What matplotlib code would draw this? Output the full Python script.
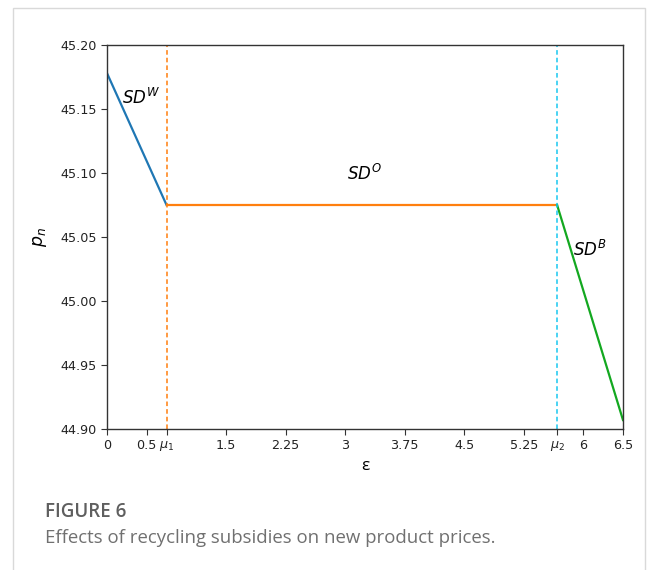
import matplotlib
matplotlib.use("Agg")
import matplotlib.pyplot as plt
from matplotlib.patches import Rectangle

# Threshold values of the subsidy
mu1 = 0.75
mu2 = 5.67

# Piecewise price segments (epsilon, p_n)
eps_w = [0.0, mu1]
p_w = [45.178, 45.075]
eps_o = [mu1, mu2]
p_o = [45.075, 45.075]
eps_b = [mu2, 6.5]
p_b = [45.075, 44.907]

xtick_vals = [0, 0.5, mu1, 1.5, 2.25, 3, 3.75, 4.5, 5.25, mu2, 6, 6.5]
xtick_labels = ["0", "0.5", r"$\mu_1$", "1.5", "2.25", "3", "3.75", "4.5", "5.25", r"$\mu_2$", "6", "6.5"]
ytick_vals = [44.90, 44.95, 45.00, 45.05, 45.10, 45.15, 45.20]

fig = plt.figure(figsize=(6.58, 5.70), dpi=100)
fig.patch.set_facecolor("white")

# light frame around chart and caption
fig.patches.append(Rectangle((13 / 658, -0.01), (645 - 13) / 658, 1 - 8 / 570 + 0.01,
                             transform=fig.transFigure, fill=False,
                             edgecolor="#d9d9d9", linewidth=1.0))

ax = fig.add_axes([107 / 658, 1 - 429 / 570, (623 - 107) / 658, (429 - 45) / 570])

ax.plot(eps_w, p_w, color="#1f77b4", lw=1.6)
ax.plot(eps_o, p_o, color="#ff7f0e", lw=1.6)
ax.plot(eps_b, p_b, color="#13a820", lw=1.6)
ax.axvline(mu1, color="#ff7f0e", lw=1.1, ls=(0, (3, 2)))
ax.axvline(mu2, color="#19c8f0", lw=1.1, ls=(0, (3, 2)))

ax.text(0.43, 45.159, r"$SD^W$", fontsize=12, ha="center", va="center")
ax.text(3.25, 45.099, r"$SD^O$", fontsize=12, ha="center", va="center")
ax.text(6.08, 45.040, r"$SD^B$", fontsize=12, ha="center", va="center")

ax.set_xlim(0, 6.5)
ax.set_ylim(44.90, 45.20)
ax.set_xticks(xtick_vals)
ax.set_xticklabels(xtick_labels)
ax.set_yticks(ytick_vals)
ax.set_yticklabels([f"{v:.2f}" for v in ytick_vals])
ax.tick_params(labelsize=9.2, length=4, color="#333333", labelcolor="#222222")
for s in ax.spines.values():
    s.set_color("#333333")
    s.set_linewidth(1.0)

ax.set_xlabel("ε", fontsize=12.5, family="Open Sans", labelpad=3)
ax.set_ylabel(r"$p_n$", fontsize=12.5, labelpad=8)

fig.text(45 / 658, 1 - 512 / 570, "FIGURE 6", fontsize=13.5, family="Open Sans",
         weight="semibold", color="#5f5f5f", va="center", ha="left")
fig.text(45 / 658, 1 - 538 / 570, "Effects of recycling subsidies on new product prices.",
         fontsize=13.4, family="Open Sans", color="#707070", va="center", ha="left")

fig.savefig("out.png", dpi=100, facecolor="white")
